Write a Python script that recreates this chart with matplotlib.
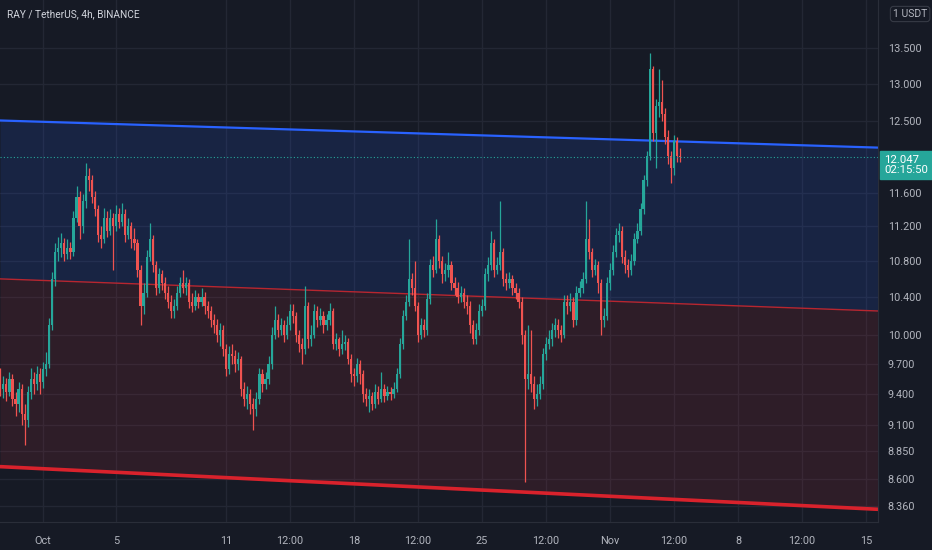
import numpy as np
import pandas as pd
import matplotlib
matplotlib.use("Agg")
import matplotlib.pyplot as plt
import matplotlib.dates as mdates
import matplotlib.transforms as mtransforms
from matplotlib.ticker import FixedLocator, NullLocator

plt.rcParams['font.family'] = ['Roboto', 'DejaVu Sans']

# 4h candles, RAY / USDT
closes = [
    9.60, 9.45, 9.50, 9.42, 9.55, 9.35, 9.30, 9.45, 9.20, 9.15,
    9.42, 9.55, 9.50, 9.60, 9.52, 9.65, 9.70, 10.10, 10.60, 10.90,
    10.95, 11.00, 10.88, 10.95, 10.90, 11.30, 11.55, 11.20, 11.50, 11.80,
    11.75, 11.55, 11.40, 11.10, 11.05, 11.30, 11.15, 11.30, 11.20, 11.35,
    11.25, 11.35, 11.10, 11.20, 11.05, 11.00, 10.70, 10.30, 10.45, 10.85,
    11.05, 10.75, 10.50, 10.65, 10.55, 10.45, 10.35, 10.25, 10.30, 10.45,
    10.55, 10.50, 10.55, 10.35, 10.30, 10.40, 10.35, 10.40, 10.30, 10.25,
    10.15, 10.10, 10.00, 10.05, 9.85, 9.65, 9.80, 9.78, 9.70, 9.75,
    9.45, 9.35, 9.40, 9.30, 9.25, 9.35, 9.60, 9.50, 9.55, 9.70,
    10.00, 10.15, 10.05, 10.10, 10.00, 10.10, 10.25, 10.20, 10.00, 9.90,
    9.85, 10.30, 9.95, 10.00, 10.25, 10.15, 10.20, 10.10, 10.15, 10.25,
    9.90, 9.95, 9.85, 9.90, 9.92, 9.75, 9.60, 9.58, 9.70, 9.60,
    9.40, 9.35, 9.38, 9.30, 9.42, 9.35, 9.45, 9.38, 9.42, 9.40,
    9.45, 9.60, 9.90, 10.20, 10.35, 10.60, 10.50, 10.30, 10.00, 10.10,
    10.05, 10.38, 10.75, 10.70, 11.05, 10.80, 10.65, 10.70, 10.75, 10.55,
    10.50, 10.40, 10.45, 10.35, 10.30, 10.10, 9.95, 10.05, 10.25, 10.30,
    10.65, 10.75, 11.00, 10.70, 10.75, 10.90, 10.60, 10.55, 10.60, 10.50,
    10.45, 10.35, 10.00, 9.55, 9.60, 9.50, 9.35, 9.40, 9.50, 9.80,
    9.90, 9.95, 10.05, 10.10, 10.05, 10.00, 10.35, 10.30, 10.35, 10.15,
    10.45, 10.50, 10.60, 11.05, 10.90, 10.70, 10.75, 10.55, 10.15, 10.20,
    10.55, 10.70, 10.90, 11.10, 11.15, 10.85, 10.75, 10.70, 10.80, 11.05,
    11.15, 11.40, 11.75, 12.05, 13.20, 12.35, 12.70, 12.75, 12.60, 12.30,
    12.05, 11.90, 12.25, 12.05, 12.047,
]
highs = [
    9.68, 9.66, 9.58, 9.56, 9.62, 9.60, 9.42, 9.52, 9.50, 9.30,
    9.48, 9.66, 9.62, 9.68, 9.66, 9.72, 9.82, 10.18, 10.68, 11.00,
    11.08, 11.12, 11.06, 11.05, 11.02, 11.38, 11.68, 11.62, 11.58, 11.97,
    11.90, 11.82, 11.62, 11.45, 11.20, 11.42, 11.38, 11.40, 11.36, 11.45,
    11.42, 11.48, 11.40, 11.30, 11.25, 11.18, 11.05, 10.75, 10.55, 10.92,
    11.24, 11.10, 10.80, 10.72, 10.70, 10.62, 10.52, 10.42, 10.38, 10.52,
    10.62, 10.70, 10.62, 10.60, 10.44, 10.48, 10.45, 10.50, 10.46, 10.36,
    10.30, 10.22, 10.16, 10.12, 10.10, 9.90, 9.88, 9.90, 9.84, 9.82,
    9.78, 9.52, 9.48, 9.45, 9.36, 9.42, 9.66, 9.65, 9.62, 9.78,
    10.08, 10.30, 10.22, 10.18, 10.15, 10.20, 10.33, 10.32, 10.24, 10.05,
    9.96, 10.52, 10.35, 10.10, 10.32, 10.30, 10.28, 10.25, 10.22, 10.34,
    10.28, 10.02, 9.98, 10.05, 10.00, 9.96, 9.80, 9.66, 9.76, 9.74,
    9.64, 9.46, 9.45, 9.42, 9.50, 9.48, 9.62, 9.50, 9.48, 9.47,
    9.52, 9.66, 9.96, 10.26, 10.42, 11.05, 10.66, 10.80, 10.35, 10.18,
    10.16, 10.45, 10.82, 10.86, 11.28, 11.10, 10.86, 10.78, 10.90, 10.80,
    10.62, 10.56, 10.52, 10.50, 10.42, 10.36, 10.15, 10.12, 10.32, 10.38,
    10.72, 10.85, 11.15, 11.05, 10.84, 11.50, 10.95, 10.66, 10.68, 10.64,
    10.55, 10.50, 10.40, 10.05, 10.10, 10.05, 9.58, 9.50, 9.58, 9.86,
    9.98, 10.05, 10.12, 10.18, 10.16, 10.10, 10.42, 10.42, 10.44, 10.40,
    10.52, 10.58, 10.68, 11.50, 11.28, 10.95, 10.82, 10.80, 10.60, 10.28,
    10.62, 10.78, 10.98, 11.18, 11.24, 11.20, 10.92, 10.82, 10.88, 11.12,
    11.24, 11.48, 11.82, 12.12, 13.43, 13.25, 12.80, 13.20, 13.05, 12.68,
    12.38, 12.12, 12.32, 12.30, 12.15,
]
lows = [
    9.45, 9.38, 9.36, 9.33, 9.38, 9.28, 9.18, 9.22, 9.10, 8.91,
    9.08, 9.35, 9.40, 9.44, 9.40, 9.46, 9.58, 9.66, 10.05, 10.52,
    10.80, 10.85, 10.80, 10.82, 10.82, 10.86, 11.25, 11.05, 11.12, 11.42,
    11.62, 11.48, 11.32, 11.02, 10.95, 11.00, 11.08, 11.10, 10.70, 11.15,
    11.18, 11.20, 11.02, 11.05, 10.95, 10.92, 10.62, 10.10, 10.22, 10.40,
    10.80, 10.68, 10.42, 10.45, 10.48, 10.38, 10.28, 10.18, 10.18, 10.26,
    10.40, 10.44, 10.42, 10.28, 10.24, 10.26, 10.28, 10.30, 10.22, 10.18,
    10.08, 10.02, 9.92, 9.88, 9.78, 9.58, 9.60, 9.70, 9.62, 9.64,
    9.38, 9.28, 9.25, 9.20, 9.05, 9.18, 9.30, 9.42, 9.45, 9.50,
    9.65, 9.95, 9.98, 10.00, 9.92, 9.95, 10.05, 10.12, 9.92, 9.82,
    9.70, 9.80, 9.86, 9.88, 9.96, 10.08, 10.10, 10.02, 10.05, 10.10,
    9.85, 9.84, 9.78, 9.80, 9.84, 9.70, 9.52, 9.48, 9.52, 9.50,
    9.32, 9.28, 9.22, 9.24, 9.26, 9.30, 9.32, 9.32, 9.34, 9.34,
    9.36, 9.42, 9.56, 9.85, 10.15, 10.30, 10.42, 10.25, 9.92, 9.95,
    9.98, 10.00, 10.32, 10.62, 10.66, 10.72, 10.55, 10.58, 10.62, 10.48,
    10.42, 10.34, 10.35, 10.28, 10.22, 10.02, 9.90, 9.90, 10.00, 10.20,
    10.26, 10.58, 10.70, 10.62, 10.65, 10.70, 10.52, 10.48, 10.50, 10.42,
    10.38, 10.28, 9.90, 8.57, 9.45, 9.42, 9.25, 9.28, 9.35, 9.45,
    9.74, 9.85, 9.88, 9.98, 9.96, 9.92, 9.96, 10.22, 10.25, 10.08,
    10.10, 10.40, 10.45, 10.55, 10.82, 10.62, 10.64, 10.45, 10.00, 10.08,
    10.15, 10.48, 10.64, 10.85, 11.02, 10.78, 10.66, 10.62, 10.64, 10.76,
    11.00, 11.10, 11.35, 11.68, 12.00, 12.25, 11.90, 12.55, 12.50, 12.20,
    11.95, 11.72, 11.82, 11.98, 11.98,
]
first_open = 9.50
last_price = 12.047

# channel drawing: left / right edge prices
channel_top = [12.51, 12.16]
channel_mid = [10.60, 10.25]
channel_bot = [8.71, 8.33]

y_ticks = [13.5, 13.0, 12.5, 11.6, 11.2, 10.8, 10.4, 10.0, 9.7, 9.4, 9.1, 8.85, 8.6, 8.36]
x_tick_dates = ['2021-10-01 00:00', '2021-10-05 00:00', '2021-10-11 00:00', '2021-10-14 12:00',
                '2021-10-18 00:00', '2021-10-21 12:00', '2021-10-25 00:00', '2021-10-28 12:00',
                '2021-11-01 00:00', '2021-11-04 12:00', '2021-11-08 00:00', '2021-11-11 12:00',
                '2021-11-15 00:00']
x_tick_labels = ['Oct', '5', '11', '12:00', '18', '12:00', '25', '12:00',
                 'Nov', '12:00', '8', '12:00', '15']

bg = '#161a25'
grid_c = '#232734'
up_c = '#26a69a'
down_c = '#ef5350'
txt_c = '#b2b5be'

closes = np.array(closes)
opens = np.concatenate([[first_open], closes[:-1]])
highs = np.maximum(np.array(highs), np.maximum(opens, closes))
lows = np.minimum(np.array(lows), np.minimum(opens, closes))
times = pd.date_range(end='2021-11-04 20:00', periods=len(closes), freq='4h')
t = mdates.date2num(times)

day0 = mdates.date2num(pd.Timestamp('2021-10-01'))
x_left = day0 - 2.35
x_right = day0 + 45.65

fig = plt.figure(figsize=(9.32, 5.5), dpi=100, facecolor=bg)
ax = fig.add_axes([0, 28 / 550, 878 / 932, 522 / 550])
ax.set_facecolor(bg)
ax.set_yscale('log')
ax.set_ylim(8.22, 14.19)
ax.set_xlim(x_left, x_right)

# grid
xt = mdates.date2num(pd.to_datetime(x_tick_dates, format='%Y-%m-%d %H:%M'))
for v in xt:
    ax.axvline(v, color=grid_c, lw=1, zorder=0)
for v in y_ticks:
    ax.axhline(v, color=grid_c, lw=1, zorder=0)

# channel zones
ex = [x_left, x_right]
ax.fill_between(ex, channel_mid, channel_top, color='#2962ff', alpha=0.14, lw=0, zorder=1)
ax.fill_between(ex, channel_bot, channel_mid, color='#f23645', alpha=0.11, lw=0, zorder=1)
ax.plot(ex, channel_top, color='#2962ff', lw=1.6, zorder=2)
ax.plot(ex, channel_mid, color='#b8262f', lw=1.0, zorder=2)
ax.plot(ex, channel_bot, color='#d9222c', lw=2.6, zorder=2)

# candles
up = closes >= opens
colors = np.where(up, up_c, down_c)
ax.vlines(t, lows, highs, colors=colors, lw=0.9, zorder=3)
body_lo = np.minimum(opens, closes)
body_h = np.maximum(np.abs(closes - opens), 0.012)
ax.bar(t, body_h, bottom=body_lo, width=0.12, color=colors, lw=0, zorder=4)

# last price
ax.axhline(last_price, color=up_c, lw=0.8, ls=(0, (1, 2)), zorder=5)
trans = mtransforms.blended_transform_factory(ax.transAxes, ax.transData)
ax.annotate('12.047\n02:15:50', xy=(1.0, last_price), xycoords=trans,
            xytext=(4.5, -6), textcoords='offset points', ha='left', va='center',
            color='white', fontsize=8.2, linespacing=1.05, annotation_clip=False,
            bbox=dict(boxstyle='square,pad=0.35', fc=up_c, ec=up_c))

# axes styling
for s in ['top', 'left']:
    ax.spines[s].set_visible(False)
ax.spines['bottom'].set_color('#2a2e39')
ax.spines['right'].set_color('#2a2e39')
ax.yaxis.tick_right()
ax.yaxis.set_major_locator(FixedLocator(y_ticks))
ax.yaxis.set_minor_locator(NullLocator())
ax.set_yticklabels([f'{v:.3f}' for v in y_ticks])
ax.tick_params(axis='y', length=0, pad=7, colors=txt_c, labelsize=7.8)
ax.set_xticks(xt)
ax.set_xticklabels(x_tick_labels)
ax.tick_params(axis='x', length=0, pad=10, colors=txt_c, labelsize=7.8)

fig.text(7 / 932, 1 - 14 / 550, 'RAY / TetherUS, 4h, BINANCE', color='#d1d4dc',
         fontsize=7.3, va='center', ha='left')
fig.text(893 / 932, 1 - 14 / 550, '1 USDT', color=txt_c, fontsize=7.5, va='center',
         ha='left', bbox=dict(boxstyle='round,pad=0.25,rounding_size=0.3',
                              fc='none', ec='#363a45', lw=0.8))

fig.savefig('out.png', dpi=100, facecolor=bg)
